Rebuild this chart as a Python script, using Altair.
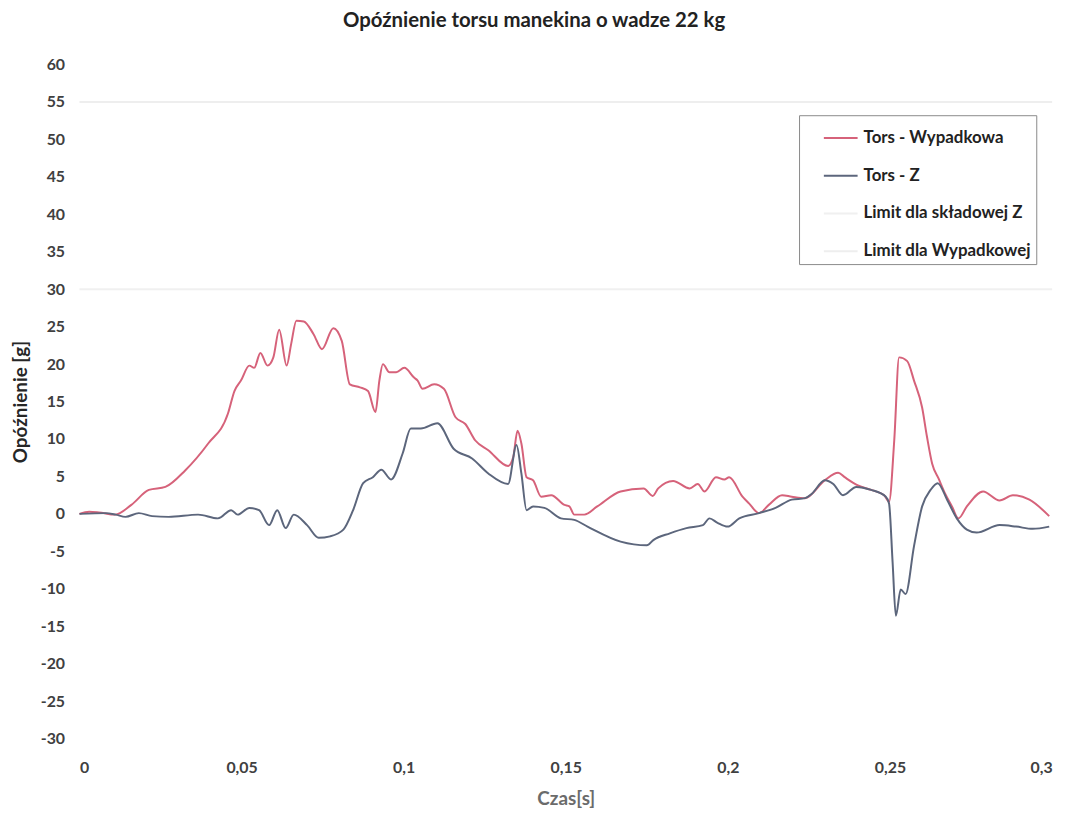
import altair as alt
import pandas as pd

# --- data ---
red_t = [0.000, 0.003, 0.006, 0.011, 0.016, 0.0214, 0.0265, 0.0326, 0.0397, 0.0458,
         0.0478, 0.0498, 0.0524, 0.0539, 0.0558, 0.058, 0.0598, 0.0616, 0.0639, 0.0653,
         0.0669, 0.0692, 0.0722, 0.0748, 0.0783, 0.0809, 0.0834, 0.0865, 0.089, 0.0913,
         0.0925, 0.0936, 0.0956, 0.0977, 0.1002, 0.1032, 0.1043, 0.1058, 0.1094, 0.1124,
         0.116, 0.119, 0.1221, 0.1261, 0.1322, 0.1338, 0.1351, 0.1363, 0.1379, 0.1399,
         0.1424, 0.1455, 0.1496, 0.1511, 0.1526, 0.1557, 0.1597, 0.1669, 0.174, 0.1768,
         0.1785, 0.1831, 0.1882, 0.1907, 0.1928, 0.1963, 0.1989, 0.2004, 0.2045, 0.2065,
         0.2096, 0.2126, 0.2167, 0.2197, 0.2238, 0.2299, 0.234, 0.236, 0.2401, 0.2442,
         0.2482, 0.2497, 0.2513, 0.2528, 0.2553, 0.2574, 0.2599, 0.2614, 0.2630, 0.265,
         0.267, 0.2691, 0.2711, 0.2737, 0.2787, 0.2838, 0.2879, 0.2930, 0.2991]
red_v = [0.0, 0.3, 0.2, -0.1, 1.2, 3.2, 3.6, 5.8, 9.4, 13.4,
         16.4, 17.8, 19.8, 19.5, 21.5, 19.8, 20.9, 24.6, 19.8, 22.7,
         25.8, 25.7, 24.0, 22.0, 24.8, 23.1, 17.3, 16.9, 16.4, 13.6,
         17.8, 20.0, 18.9, 18.9, 19.5, 18.2, 17.8, 16.7, 17.3, 16.7,
         12.9, 12.0, 9.8, 8.5, 6.4, 7.6, 11.1, 9.4, 4.9, 4.5,
         2.3, 2.5, 1.2, 1.0, -0.1, -0.1, 1.0, 3.0, 3.4, 2.4,
         3.4, 4.4, 3.4, 4.0, 3.0, 4.9, 4.6, 4.9, 2.3, 1.4,
         0.1, 1.2, 2.5, 2.3, 2.1, 4.5, 5.5, 4.9, 3.8, 3.2,
         2.5, 1.6, 9.8, 20.9, 20.4, 17.8, 14.2, 10.3, 6.7, 4.7,
         2.7, 1.0, -0.6, 1.0, 3.0, 1.8, 2.5, 1.9, -0.3]

blue_t = [0.000, 0.0081, 0.0112, 0.0142, 0.0183, 0.0224, 0.0275, 0.0366, 0.0427, 0.0468,
          0.0488, 0.0524, 0.0554, 0.0585, 0.061, 0.0636, 0.0661, 0.0702, 0.0738, 0.0773,
          0.0814, 0.0844, 0.0875, 0.0905, 0.0931, 0.0961, 0.0997, 0.1022, 0.1053, 0.1104,
          0.1154, 0.1211, 0.1261, 0.1322, 0.1348, 0.1363, 0.1379, 0.1399, 0.1434, 0.1485,
          0.1526, 0.1567, 0.1669, 0.175, 0.177, 0.1821, 0.1872, 0.1923, 0.1943, 0.1968,
          0.1999, 0.2035, 0.2096, 0.2147, 0.2197, 0.2238, 0.2259, 0.2299, 0.2325, 0.2355,
          0.2396, 0.2442, 0.2487, 0.2497, 0.2508, 0.2518, 0.2533, 0.2548, 0.2574, 0.2599,
          0.2625, 0.2647, 0.2676, 0.2706, 0.2737, 0.2767, 0.2838, 0.2889, 0.2940, 0.2991]
blue_v = [0.0, 0.1, -0.1, -0.4, 0.1, -0.3, -0.4, -0.1, -0.6, 0.5,
          -0.1, 0.8, 0.5, -1.5, 0.5, -1.9, -0.1, -1.5, -3.2, -3.0,
          -2.1, 0.5, 4.1, 4.9, 5.9, 4.6, 8.1, 11.4, 11.4, 12.1,
          8.7, 7.4, 5.4, 4.0, 9.2, 5.4, 0.5, 1.0, 0.8, -0.6,
          -0.8, -1.7, -3.7, -4.2, -3.5, -2.6, -1.9, -1.5, -0.6, -1.2,
          -1.7, -0.6, 0.1, 0.8, 1.9, 2.1, 2.7, 4.5, 4.0, 2.5,
          3.6, 3.2, 2.3, 1.4, -6.5, -13.6, -10.1, -10.7, -4.3, 1.0,
          3.2, 4.1, 1.9, -0.6, -2.1, -2.5, -1.5, -1.7, -2.0, -1.7]

limit_t = [0.0, 0.3]
limit_z = 30
limit_w = 55

series_names = ["Tors - Wypadkowa", "Tors - Z", "Limit dla składowej Z", "Limit dla Wypadkowej"]
series_colors = ["#d6627a", "#5c667c", "#f0f0f0", "#eeeeee"]

x_ticks = [0, 0.05, 0.1, 0.15, 0.2, 0.25, 0.3]
y_ticks = list(range(-30, 61, 5))

rows = []
for t, v in zip(red_t, red_v):
    rows.append({"t": t, "v": v, "series": series_names[0]})
for t, v in zip(blue_t, blue_v):
    rows.append({"t": t, "v": v, "series": series_names[1]})
for t in limit_t:
    rows.append({"t": t, "v": limit_z, "series": series_names[2]})
for t in limit_t:
    rows.append({"t": t, "v": limit_w, "series": series_names[3]})
df = pd.DataFrame(rows)

FONT = "Lato"

chart = alt.Chart(df).mark_line(strokeWidth=2, interpolate="monotone").encode(
    x=alt.X("t:Q",
            scale=alt.Scale(domain=[0, 0.3], nice=False, zero=False),
            axis=alt.Axis(values=x_ticks, title="Czas[s]",
                          labelExpr="replace(toString(datum.value), '.', ',')",
                          domain=False, ticks=False, grid=False,
                          labelPadding=21, labelFontSize=16, labelFont=FONT,
                          labelFontWeight="bold", labelColor="#404040",
                          titleFont=FONT, titleFontSize=19, titleFontWeight="bold",
                          titleColor="#6b6b6b", titlePadding=14)),
    y=alt.Y("v:Q",
            scale=alt.Scale(domain=[-30, 60], nice=False, zero=False),
            axis=alt.Axis(values=y_ticks, title="Opóźnienie [g]",
                          labelExpr="toString(datum.value)",
                          domain=False, ticks=False, grid=False,
                          labelPadding=15, labelFontSize=16, labelFont=FONT,
                          labelFontWeight="bold", labelColor="#404040",
                          titleFont=FONT, titleFontSize=19, titleFontWeight="bold",
                          titleColor="#262626", titlePadding=10)),
    color=alt.Color("series:N",
                    scale=alt.Scale(domain=series_names, range=series_colors),
                    sort=series_names,
                    legend=alt.Legend(title=None, orient="none",
                                      legendX=725, legendY=51,
                                      symbolType="stroke", symbolSize=1156,
                                      symbolStrokeWidth=2, symbolOffset=19,
                                      labelFont=FONT, labelFontSize=17,
                                      labelFontWeight="bold", labelColor="#222222",
                                      labelOffset=5, rowPadding=12,
                                      padding=5, strokeColor="#8a8a8a",
                                      fillColor="white", labelLimit=300)),
    detail="series:N",
).properties(
    width=980,
    height=679,
    title=alt.TitleParams("Opóźnienie torsu manekina o wadze 22 kg",
                          font=FONT, fontSize=20.5, fontWeight="bold",
                          color="#222222", anchor="middle", dx=-32, offset=25),
    autosize="none",
    padding={"left": 72, "top": 54, "right": 18, "bottom": 70},
).configure_view(stroke=None)

chart.save("out.html", embed_options={"renderer": "svg", "actions": False})
